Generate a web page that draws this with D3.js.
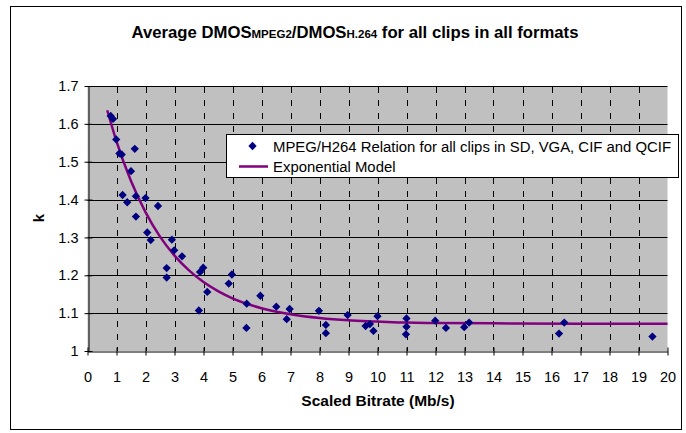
<!DOCTYPE html>
<html><head><meta charset="utf-8">
<script src="https://cdn.jsdelivr.net/npm/d3@7"></script>
<style>body{margin:0;background:#fff}svg{display:block}text{font-family:Arial,"Liberation Sans",sans-serif}</style>
</head><body><svg id="c" width="686" height="433"></svg>
<script>
// Data
const bitrate = [0.80,0.88,0.99,1.10,1.18,1.63,1.50,1.21,1.37,1.67,2.00,2.43,1.67,2.06,2.18,2.91,2.99,3.26,2.73,2.73,3.88,3.99,4.13,3.84,4.98,4.87,5.49,5.96,5.48,6.51,6.97,6.87,7.98,8.22,8.22,8.97,9.59,9.74,9.86,10.0,11.0,11.0,10.98,11.99,12.36,12.99,13.16,16.26,16.44,19.48];
const kValue  = [1.621,1.613,1.559,1.522,1.519,1.534,1.475,1.412,1.393,1.409,1.404,1.383,1.355,1.313,1.293,1.294,1.266,1.250,1.219,1.194,1.209,1.220,1.156,1.107,1.202,1.178,1.125,1.146,1.061,1.117,1.111,1.084,1.106,1.069,1.047,1.095,1.066,1.071,1.053,1.092,1.086,1.064,1.044,1.080,1.061,1.063,1.075,1.046,1.075,1.038];
const modelX = [0.68,1,1.5,2,2.5,3,3.5,4,4.5,5,6,7,8,9,10,11,12,14,17,20];
const modelK = [1.636,1.554,1.449,1.367,1.302,1.252,1.213,1.182,1.158,1.139,1.113,1.097,1.087,1.081,1.078,1.075,1.074,1.073,1.072,1.072];
const xTicks = d3.range(0,21,1);
const yTicks = [1,1.1,1.2,1.3,1.4,1.5,1.6,1.7];
const legendLabels = ["MPEG/H264 Relation for all clips in SD, VGA, CIF and QCIF","Exponential Model"];

const svg = d3.select("#c");
const L=87.5, R=667.5, T=86, B=351;
const x = d3.scaleLinear().domain([0,20]).range([L,R]);
const y = d3.scaleLinear().domain([1,1.7]).range([B,T]);

// chart border
svg.append("rect").attr("x",10.5).attr("y",6.5).attr("width",671).attr("height",423).attr("fill","#fff").attr("stroke","#000").attr("stroke-width",1);

// plot area
svg.append("rect").attr("x",L).attr("y",T).attr("width",R-L).attr("height",B-T).attr("fill","#c0c0c0");

// horizontal grid
svg.append("g").selectAll("line").data(yTicks.slice(1)).join("line")
  .attr("x1",L).attr("x2",R).attr("y1",d=>Math.round(y(d))+0.5).attr("y2",d=>Math.round(y(d))+0.5)
  .attr("stroke","#000").attr("stroke-width",1);
// vertical dashed grid
svg.append("g").selectAll("line").data(xTicks.slice(1,20)).join("line")
  .attr("x1",d=>Math.round(x(d))+0.5).attr("x2",d=>Math.round(x(d))+0.5).attr("y1",T+1).attr("y2",B)
  .attr("stroke","#000").attr("stroke-width",1).attr("stroke-dasharray","6,7");

// axes
const xAxis = svg.append("g").attr("transform",`translate(0,${Math.round(B)+0.5})`)
  .call(d3.axisBottom(x).tickValues(xTicks).tickFormat(d3.format("d")).tickSize(4).tickSizeOuter(0));
xAxis.select(".domain").attr("stroke","#000");
xAxis.selectAll(".tick line").attr("y1",-4).attr("y2",4);
xAxis.selectAll(".tick text").attr("font-size",14.5).attr("font-family","Arial, Liberation Sans").attr("dy",0).attr("y",30).attr("fill","#000");

const yAxis = svg.append("g").attr("transform",`translate(${Math.round(L)+0.5},0)`)
  .call(d3.axisLeft(y).tickValues(yTicks).tickFormat(d=>d===1?"1":d3.format(".1f")(d)).tickSize(4).tickSizeOuter(0));
yAxis.select(".domain").attr("stroke","#000");
yAxis.selectAll(".tick line").attr("x1",-4).attr("x2",4);
yAxis.selectAll(".tick text").attr("font-size",14.5).attr("font-family","Arial, Liberation Sans").attr("x",-10).attr("fill","#000");

// model line
const line = d3.line().x(d=>x(d[0])).y(d=>y(d[1])).curve(d3.curveMonotoneX);
svg.append("path").datum(modelX.map((v,i)=>[v,modelK[i]])).attr("d",line)
  .attr("fill","none").attr("stroke","#800080").attr("stroke-width",2.5);

// points
const diamond = d3.symbol().type(d3.symbolDiamond2).size(44);
svg.append("g").selectAll("path").data(bitrate.map((v,i)=>[v,kValue[i]])).join("path")
  .attr("transform",d=>`translate(${x(d[0])},${y(d[1])})`).attr("d",diamond).attr("fill","#000080");

// title
const title = svg.append("text").attr("x",355).attr("y",38).attr("text-anchor","middle").attr("font-weight","bold").attr("fill","#000");
[["Average DMOS",16.7],["MPEG2",11.5],["/DMOS",16.7],["H.264",11.5],[" for all clips in all formats",16.7]].forEach(([t,s])=>{
  title.append("tspan").attr("font-size",s).text(t);
});

// axis titles
svg.append("text").attr("x",378).attr("y",406).attr("text-anchor","middle").attr("font-size",15.5).attr("font-weight","bold").text("Scaled Bitrate (Mb/s)");
svg.append("text").attr("transform","translate(44,218) rotate(-90)").attr("text-anchor","middle").attr("font-size",15).attr("font-weight","bold").text("k");

// legend
const lg = svg.append("g");
lg.append("rect").attr("x",226.5).attr("y",134.5).attr("width",452).attr("height",43).attr("fill","#fff").attr("stroke","#000");
lg.append("path").attr("transform","translate(252.5,146)").attr("d",diamond).attr("fill","#000080");
lg.append("line").attr("x1",239).attr("x2",268).attr("y1",166.5).attr("y2",166.5).attr("stroke","#800080").attr("stroke-width",2.5);
lg.append("text").attr("x",273).attr("y",151.5).attr("font-size",14.9).text(legendLabels[0]);
lg.append("text").attr("x",273).attr("y",171.5).attr("font-size",14.9).text(legendLabels[1]);
</script></body></html>
